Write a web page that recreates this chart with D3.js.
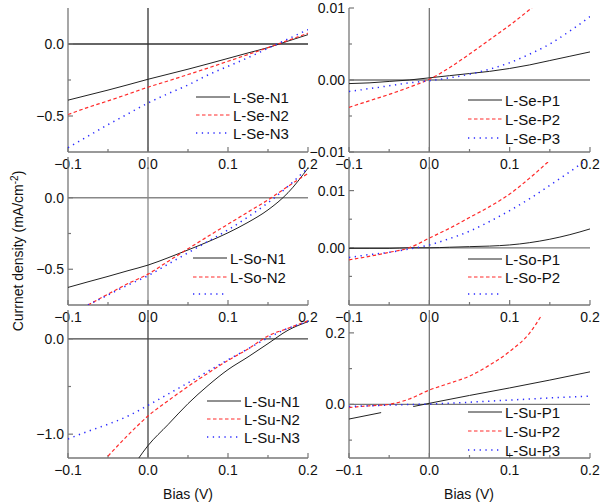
<!DOCTYPE html>
<html>
<head>
<meta charset="utf-8">
<script src="https://cdn.jsdelivr.net/npm/d3@7"></script>
<style>
  html, body { margin: 0; padding: 0; background: #fff; }
  svg { display: block; font-family: "Liberation Sans", Arial, sans-serif; }
</style>
</head>
<body>
<svg id="chart" width="600" height="504"></svg>
<script>
// ---------------- DATA ----------------
const bias = [-0.1, -0.075, -0.05, -0.025, 0, 0.025, 0.05, 0.075, 0.1, 0.125, 0.15, 0.175, 0.2];
const xTicksMajor = [-0.1, 0, 0.1, 0.2];
const xTicksMinor = [-0.05, 0.05, 0.15];

// L-Se-N
const seN1 = [-0.39, -0.355, -0.32, -0.283, -0.245, -0.21, -0.175, -0.138, -0.10, -0.062, -0.025, 0.02, 0.065];
const seN2 = [-0.49, -0.44, -0.395, -0.348, -0.30, -0.257, -0.212, -0.167, -0.12, -0.073, -0.025, 0.025, 0.075];
const seN3 = [-0.72, -0.64, -0.56, -0.485, -0.41, -0.345, -0.285, -0.215, -0.155, -0.095, -0.03, 0.035, 0.10];
// L-Se-P
const seP1 = [-0.0005, -0.0004, -0.0002, 0.0, 0.0003, 0.0006, 0.0009, 0.0012, 0.0016, 0.0021, 0.0027, 0.0033, 0.0039];
const seP2 = [-0.0038, -0.0029, -0.0020, -0.0010, 0.0001, 0.0017, 0.0036, 0.0056, 0.0076, 0.0098, 0.0122, null, null];
const seP3 = [-0.0016, -0.0012, -0.0008, -0.0004, -0.0001, 0.0003, 0.0008, 0.0015, 0.0024, 0.0036, 0.0050, 0.0068, 0.0088];
// L-So-N
const soN1 = [-0.627, -0.588, -0.55, -0.51, -0.471, -0.42, -0.365, -0.308, -0.245, -0.172, -0.085, 0.035, 0.207];
const soN2 = [null, -0.75, -0.674, -0.60, -0.534, -0.445, -0.357, -0.27, -0.185, -0.10, -0.015, 0.08, 0.17];
const soN3 = [null, -0.75, -0.68, -0.61, -0.545, -0.465, -0.385, -0.305, -0.225, -0.135, -0.035, 0.08, 0.21];
// L-So-P
const soP1 = [-0.0001, -0.0001, -0.0001, 0.0, 0.0, 0.0001, 0.0002, 0.0003, 0.0005, 0.0009, 0.0015, 0.0023, 0.0033];
const soP2 = [-0.0021, -0.0015, -0.0008, 0.0, 0.0017, 0.0034, 0.0053, 0.0072, 0.0094, 0.0122, 0.0153, null, null];
const soP3 = [-0.0017, -0.0012, -0.0008, -0.0002, 0.0005, 0.0016, 0.0029, 0.0046, 0.0065, 0.0086, 0.0109, 0.0133, 0.0158];
// L-Su-N
const suN1 = [null, null, null, -1.42, -1.12, -0.90, -0.68, -0.49, -0.323, -0.19, -0.05, 0.09, 0.18];
const suN2 = [null, null, -1.23, -1.01, -0.81, -0.65, -0.50, -0.36, -0.226, -0.107, 0.03, 0.11, 0.19];
const suN3 = [-1.05, -0.97, -0.896, -0.81, -0.698, -0.58, -0.462, -0.34, -0.22, -0.105, 0.01, 0.11, 0.18];
// L-Su-P
const suP1Bias = [-0.1, -0.06, -0.04, -0.02, 0, 0.05, 0.1, 0.15, 0.2];
const suP1 = [-0.041, -0.023, null, -0.006, 0.003, 0.025, 0.046, 0.068, 0.091];
const suP2 = [-0.009, -0.004, 0.0, 0.015, 0.04, 0.059, 0.079, 0.11, 0.148, 0.20, 0.29, null, null];
const suP3 = [-0.006, -0.004, -0.002, -0.0005, 0.001, 0.0035, 0.006, 0.009, 0.012, 0.015, 0.018, 0.0205, 0.023];

const legendSe = ["L-Se-N1", "L-Se-N2", "L-Se-N3"];
const legendSeP = ["L-Se-P1", "L-Se-P2", "L-Se-P3"];
const legendSo = ["L-So-N1", "L-So-N2", ""];
const legendSoP = ["L-So-P1", "L-So-P2", ""];
const legendSu = ["L-Su-N1", "L-Su-N2", "L-Su-N3"];
const legendSuP = ["L-Su-P1", "L-Su-P2", "L-Su-P3"];

// ---------------- STYLES ----------------
const styles = [
  { color: "#222", dash: null, width: 1 },
  { color: "#ff2a2a", dash: "3.5,2.5", width: 1.2 },
  { color: "#2a2aff", dash: "1.3,4.5", width: 1.5 }
];

// ---------------- LAYOUT ----------------
const panels = [
  { x0: 68, x1: 308, yt: 8, yb: 152, dom: [-0.75, 0.25], yMaj: [0, -0.5], yMin: [-0.25], fmt: ".1f", ext: 0,
    xs: [bias, bias, bias], ys: [seN1, seN2, seN3], leg: legendSe, lx: 196, ly: [97, 115, 133], zc: "#333" },
  { x0: 349, x1: 590, yt: 8, yb: 152, dom: [-0.01, 0.01], yMaj: [0.01, 0, -0.01], yMin: [0.005, -0.005], fmt: ".2f", ext: 0,
    xs: [bias, bias, bias], ys: [seP1, seP2, seP3], leg: legendSeP, lx: 468, ly: [100, 119, 138], zc: "#777" },
  { x0: 68, x1: 308, yt: 162, yb: 305, dom: [-0.75, 0.25], yMaj: [0, -0.5], yMin: [-0.25], fmt: ".1f", ext: 5,
    xs: [bias, bias, bias], ys: [soN1, soN2, soN3], leg: legendSo, lx: 193, ly: [258, 277, 294], zc: "#888" },
  { x0: 349, x1: 590, yt: 162, yb: 305, dom: [-0.01, 0.015], yMaj: [0.01, 0], yMin: [0.005, -0.005], fmt: ".2f", ext: 5,
    xs: [bias, bias, bias], ys: [soP1, soP2, soP3], leg: legendSoP, lx: 468, ly: [259, 277, 294], zc: "#777" },
  { x0: 68, x1: 308, yt: 315, yb: 458, dom: [-1.25, 0.25], yMaj: [0, -1.0], yMin: [-0.5], fmt: ".1f", ext: 5,
    xs: [bias, bias, bias], ys: [suN1, suN2, suN3], leg: legendSu, lx: 207, ly: [401, 419, 437], zc: "#444" },
  { x0: 349, x1: 590, yt: 315, yb: 458, dom: [-0.15, 0.25], yMaj: [0.2, 0], yMin: [0.1, -0.1], fmt: ".1f", ext: 5,
    xs: [suP1Bias, bias, bias], ys: [suP1, suP2, suP3], leg: legendSuP, lx: 468, ly: [412, 431, 450], zc: "#777" }
];

const svg = d3.select("#chart");
const axisColor = "#777";

panels.forEach((p, pi) => {
  const x = d3.scaleLinear().domain([-0.1, 0.2]).range([p.x0, p.x1]);
  const y = d3.scaleLinear().domain(p.dom).range([p.yb, p.yt]);
  const g = svg.append("g");

  const clipId = "clip" + pi;
  svg.append("clipPath").attr("id", clipId)
    .append("rect").attr("x", p.x0).attr("y", p.yt).attr("width", p.x1 - p.x0).attr("height", p.yb - p.yt);

  // zero lines
  g.append("line").attr("x1", p.x0).attr("x2", p.x1).attr("y1", y(0)).attr("y2", y(0))
    .attr("stroke", p.zc).attr("stroke-width", 1.3);
  g.append("line").attr("x1", x(0)).attr("x2", x(0)).attr("y1", p.yt - p.ext).attr("y2", p.yb)
    .attr("stroke", p.zc).attr("stroke-width", 1.3);

  // axes lines
  g.append("line").attr("x1", p.x0).attr("x2", p.x1).attr("y1", p.yb).attr("y2", p.yb)
    .attr("stroke", axisColor).attr("stroke-width", 1.3);
  g.append("line").attr("x1", p.x0).attr("x2", p.x0).attr("y1", p.yt - p.ext).attr("y2", p.yb)
    .attr("stroke", axisColor).attr("stroke-width", 1.3);

  // x ticks (inward)
  xTicksMajor.forEach(v => {
    g.append("line").attr("x1", x(v)).attr("x2", x(v)).attr("y1", p.yb).attr("y2", p.yb - 5)
      .attr("stroke", axisColor).attr("stroke-width", 1.2);
    g.append("text").attr("x", x(v)).attr("y", p.yb + 17).attr("text-anchor", "middle")
      .attr("font-size", 14).attr("fill", "#111").text(d3.format(".1f")(v));
  });
  xTicksMinor.forEach(v => {
    g.append("line").attr("x1", x(v)).attr("x2", x(v)).attr("y1", p.yb).attr("y2", p.yb - 3)
      .attr("stroke", axisColor).attr("stroke-width", 1.2);
  });
  // y ticks (inward)
  p.yMaj.forEach(v => {
    g.append("line").attr("x1", p.x0).attr("x2", p.x0 + 5).attr("y1", y(v)).attr("y2", y(v))
      .attr("stroke", axisColor).attr("stroke-width", 1.2);
    g.append("text").attr("x", p.x0 - 4).attr("y", y(v) + 5).attr("text-anchor", "end")
      .attr("font-size", 14).attr("fill", "#111").text(d3.format(p.fmt)(v));
  });
  p.yMin.forEach(v => {
    g.append("line").attr("x1", p.x0).attr("x2", p.x0 + 3).attr("y1", y(v)).attr("y2", y(v))
      .attr("stroke", axisColor).attr("stroke-width", 1.2);
  });

  // series
  p.ys.forEach((vals, si) => {
    const xsArr = p.xs[si];
    const pts = xsArr.map((b, i) => [b, vals[i]]);
    const line = d3.line()
      .defined(d => d[1] !== null && d[1] !== undefined)
      .x(d => x(d[0])).y(d => y(d[1]))
      .curve(d3.curveMonotoneX);
    const st = styles[si];
    g.append("path").attr("d", line(pts)).attr("fill", "none")
      .attr("clip-path", `url(#${clipId})`)
      .attr("stroke", st.color).attr("stroke-width", st.width)
      .attr("stroke-dasharray", st.dash);
  });

  // legend
  p.leg.forEach((name, si) => {
    const st = styles[si];
    const ly = p.ly[si];
    g.append("line").attr("x1", p.lx).attr("x2", p.lx + 34).attr("y1", ly).attr("y2", ly)
      .attr("stroke", st.color).attr("stroke-width", st.width).attr("stroke-dasharray", st.dash);
    if (name) {
      g.append("text").attr("x", p.lx + 37).attr("y", ly + 5.5).attr("font-size", 15)
        .attr("fill", "#111").text(name);
    }
  });
});

// axis titles
const yl = svg.append("text").attr("transform", "translate(23,251) rotate(-90)")
  .attr("text-anchor", "middle").attr("font-size", 14).attr("fill", "#111");
yl.append("tspan").text("Currnet density (mA/cm");
yl.append("tspan").attr("font-size", 10).attr("dy", -5).text("-2");
yl.append("tspan").attr("dy", 5).text(")");

svg.append("text").attr("x", 188).attr("y", 499).attr("text-anchor", "middle")
  .attr("font-size", 14).attr("fill", "#111").text("Bias (V)");
svg.append("text").attr("x", 469).attr("y", 499).attr("text-anchor", "middle")
  .attr("font-size", 14).attr("fill", "#111").text("Bias (V)");
</script>
</body>
</html>
